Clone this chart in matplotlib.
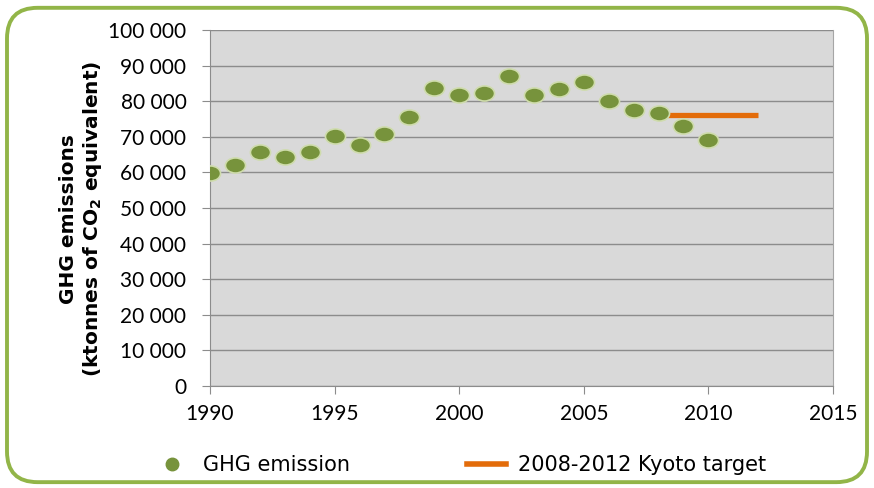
import matplotlib.pyplot as plt
from matplotlib.patches import FancyBboxPatch
from matplotlib.ticker import FuncFormatter
from matplotlib.lines import Line2D
from matplotlib.markers import MarkerStyle
from matplotlib.transforms import Affine2D

years = [1990, 1991, 1992, 1993, 1994, 1995, 1996, 1997, 1998, 1999, 2000,
         2001, 2002, 2003, 2004, 2005, 2006, 2007, 2008, 2009, 2010]
ghg = [59800, 62000, 65800, 64400, 65800, 70200, 67700, 70800, 75500, 83600,
       81700, 82200, 87100, 81700, 83300, 85500, 80100, 77500, 76600, 73000, 69100]
kyoto_years = [2008, 2012]
kyoto_value = [76100, 76100]

plt.rcParams['font.family'] = ['Lato', 'DejaVu Sans']

fig = plt.figure(figsize=(8.74, 4.88), dpi=100)
fig.patch.set_facecolor('white')

# rounded green frame round the whole chart
frame = FancyBboxPatch((0.008, 0.012), 0.984, 0.972, boxstyle='round,pad=0,rounding_size=0.035',
                       transform=fig.transFigure, facecolor='white', edgecolor='#92b548',
                       linewidth=2.8, mutation_aspect=874 / 488, zorder=-5)
fig.patches.append(frame)

ax = fig.add_axes([210 / 874, 1 - 386 / 488, 623 / 874, 356 / 488])
ax.set_facecolor('#d9d9d9')

# slightly flattened dots
dot = MarkerStyle('o', transform=Affine2D().scale(1, 0.75))
ax.scatter(years, ghg, s=210, marker=dot, color='#77933c', edgecolors='#cfdcac',
           linewidths=1.2, zorder=3)
ax.plot(kyoto_years, kyoto_value, color='#e36c0a', linewidth=3.8, zorder=2, solid_capstyle='butt')

ax.set_xlim(1990, 2015)
ax.set_ylim(0, 100000)
ax.set_xticks(range(1990, 2016, 5))
ax.set_yticks(range(0, 100001, 10000))
ax.yaxis.set_major_formatter(FuncFormatter(lambda v, p: f'{int(v):,}'.replace(',', ' ')))
ax.grid(axis='y', color='#8c8c8c', linewidth=1.0)
ax.set_axisbelow(True)

ax.spines['top'].set_visible(False)
ax.spines['right'].set_color('#a6a6a6')
ax.spines['left'].set_color('#8c8c8c')
ax.spines['bottom'].set_color('#8c8c8c')
ax.tick_params(axis='both', colors='#8c8c8c', labelcolor='black', labelsize=15, length=6)
ax.tick_params(axis='y', pad=11)
ax.tick_params(axis='x', pad=7)

ax.set_ylabel('GHG emissions\n(ktonnes of CO$_\\mathbf{2}$ equivalent)', fontsize=14.5,
              family='DejaVu Sans', fontweight='bold', linespacing=1.2)
ax.yaxis.set_label_coords(-0.17, 0.47)

handles = [Line2D([], [], marker='o', linestyle='none', markersize=9, color='#77933c'),
           Line2D([], [], color='#e36c0a', linewidth=4)]
fig.legend(handles, ['GHG emission', '2008-2012 Kyoto target'], loc='center left',
           bbox_to_anchor=(152 / 874, 0.047), ncol=2, frameon=False,
           prop={'family': 'DejaVu Sans', 'size': 15}, borderpad=0, borderaxespad=0,
           columnspacing=5.6, handlelength=1.9, handletextpad=0.55)

fig.savefig('out.png', dpi=100)
